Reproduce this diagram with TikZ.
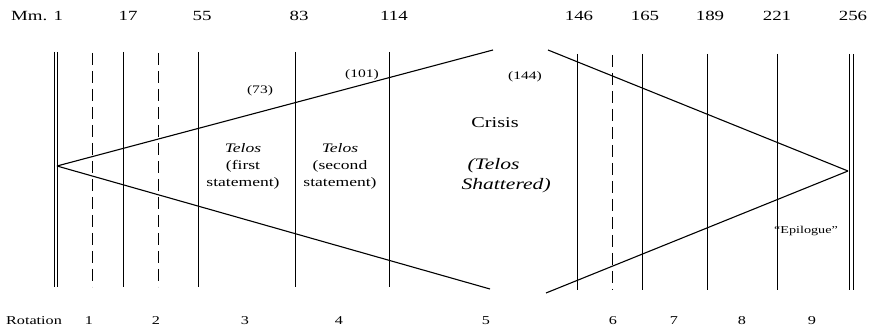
\documentclass[tikz,border=0pt]{standalone}
\usepackage{fontspec}
\setmainfont{Liberation Serif}[FakeStretch=1.35]
\begin{document}
\begin{tikzpicture}[x=1pt,y=-1pt,
  vline/.style={line width=0.6pt},
  dline/.style={line width=0.6pt,dash pattern=on 12pt off 6pt},
  diag/.style={line width=1.1pt},
  topnum/.style={font=\fontsize{14}{16}\selectfont,anchor=base},
  botnum/.style={font=\fontsize{12}{14}\selectfont,anchor=base},
  sectxt/.style={font=\fontsize{13}{17}\selectfont,align=center},
  paren/.style={font=\fontsize{11.5}{13}\selectfont}]
\useasboundingbox (0,0) rectangle (871,336);
% vertical lines, left part
\foreach \n/\x in {la/54,lb/57,s17/123,s55/198,s83/295,s114/389}{
  \coordinate (t\n) at (\x,52); \coordinate (b\n) at (\x,287);
  \draw[vline] (t\n) -- (b\n);}
\foreach \n/\x in {d1/92,d2/158}{
  \coordinate (t\n) at (\x,53); \coordinate (b\n) at (\x,287);
  \draw[dline] (t\n) -- (b\n);}
% vertical lines, right part
\foreach \n/\x in {s146/577,s165/642,s189/707,s221/777,ra/849,rb/853}{
  \coordinate (t\n) at (\x,54); \coordinate (b\n) at (\x,290);
  \draw[vline] (t\n) -- (b\n);}
\coordinate (td3) at (612,55); \coordinate (bd3) at (612,290);
\draw[dline] (td3) -- (bd3);
% diagonals
\coordinate (L) at (57,166);
\coordinate (U1) at (493,50);
\coordinate (D1) at (490,289);
\coordinate (R) at (848,171);
\coordinate (U2) at (548,50);
\coordinate (D2) at (546,293);
\draw[diag] (L) -- (U1);
\draw[diag] (L) -- (D1);
\draw[diag] (R) -- (U2);
\draw[diag] (R) -- (D2);
% top numbers
\node[topnum] (mm) at (37,21) {Mm. 1};
\node[topnum] (n17) at (128,21) {17};
\node[topnum] (n55) at (202,21) {55};
\node[topnum] (n83) at (299,21) {83};
\node[topnum] (n114) at (394,21) {114};
\node[topnum] (n146) at (579,21) {146};
\node[topnum] (n165) at (645,21) {165};
\node[topnum] (n189) at (710,21) {189};
\node[topnum] (n221) at (777,21) {221};
\node[topnum] (n256) at (853,21) {256};
% bottom rotation labels
\node[botnum] (rot) at (34,325) {Rotation};
\node[botnum] (r1) at (89,325) {1};
\node[botnum] (r2) at (156,325) {2};
\node[botnum] (r3) at (245,325) {3};
\node[botnum] (r4) at (339,325) {4};
\node[botnum] (r5) at (486,325) {5};
\node[botnum] (r6) at (613,325) {6};
\node[botnum] (r7) at (674,325) {7};
\node[botnum] (r8) at (742,325) {8};
\node[botnum] (r9) at (812,325) {9};
% bar numbers in parentheses
\node[paren] (p73) at (260,91) {(73)};
\node[paren] (p101) at (362,75) {(101)};
\node[paren] (p144) at (525,77) {(144)};
% section texts
\node[sectxt] (tel1) at (243,166) {\textit{Telos}\\(first\\statement)};
\node[sectxt] (tel2) at (340,166) {\textit{Telos}\\(second\\statement)};
\node[font=\fontsize{15}{17}\selectfont] (crisis) at (495,123) {Crisis};
\node[font=\fontsize{16}{20}\selectfont\itshape,align=left,anchor=west] (shat) at (458,176) {\hspace*{6pt}(Telos\\Shattered)};
\node[font=\fontsize{10.5}{12}\selectfont] (epi) at (806,231) {``Epilogue''};
\end{tikzpicture}
\end{document}
